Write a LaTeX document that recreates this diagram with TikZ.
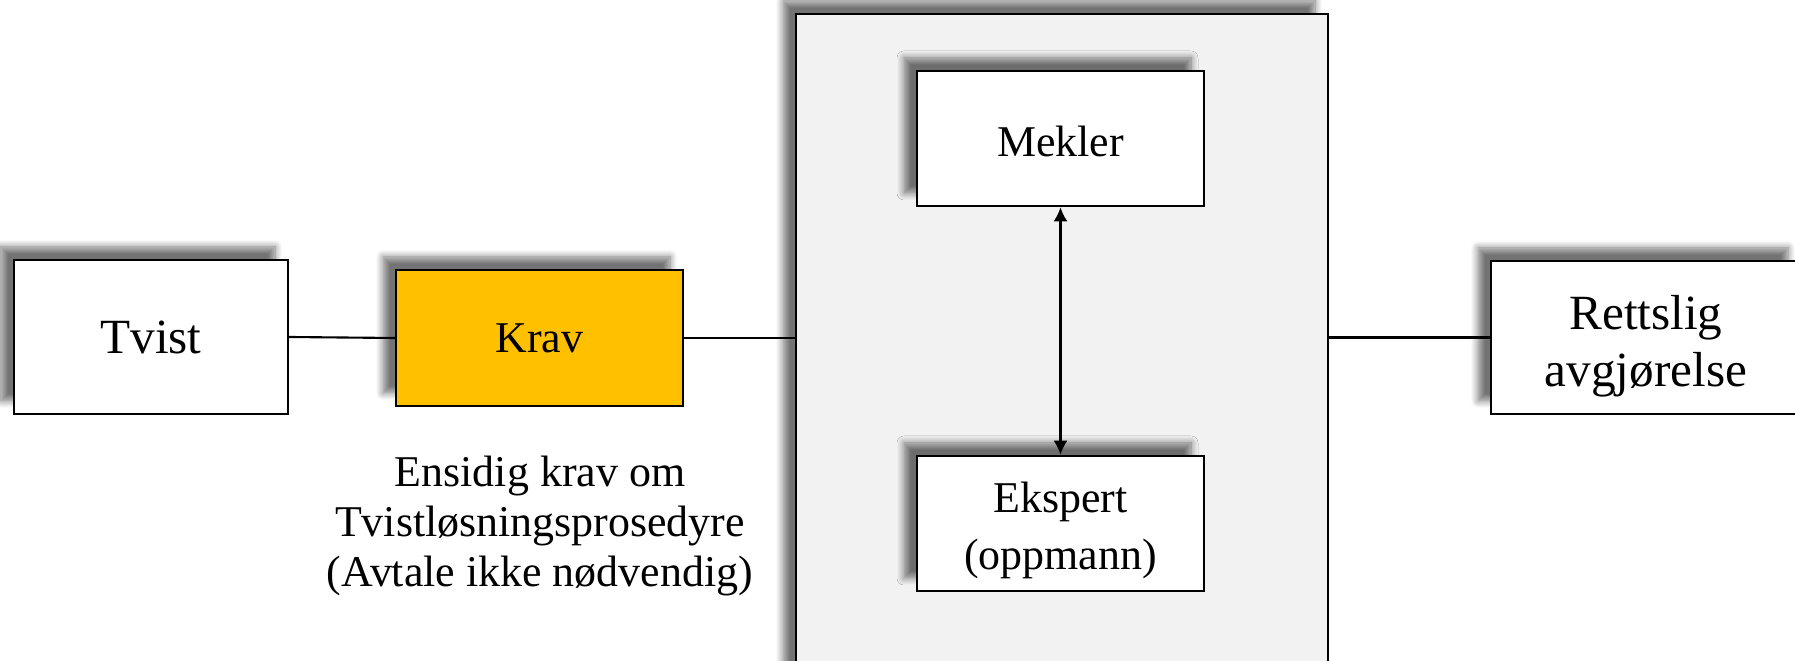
\documentclass[tikz,border=0pt]{standalone}
\usepackage{fontspec}
\setmainfont{Liberation Serif}
\usetikzlibrary{arrows.meta,shadows.blur}

\definecolor{kravgul}{HTML}{FFC000}
\definecolor{panel}{HTML}{F2F2F2}

\tikzset{
	shade box/.style={blur shadow={shadow xshift=-0.13cm,shadow yshift=0.13cm,
		shadow blur radius=0.07cm,shadow blur steps=8,shadow opacity=55}},
	box/.style={draw,line width=0.7pt,fill=white,align=center,inner sep=0pt,shade box},
	big/.style={font=\fontsize{14}{16.2}\selectfont},
	small/.style={font=\fontsize{12.5}{14.2}\selectfont}
}

\begin{document}
\begin{tikzpicture}
	\useasboundingbox (0,0) rectangle (17.95,6.61);

	% panel in the middle
	\node[box,fill=panel,line width=0.8pt,minimum width=5.32cm,minimum height=6.97cm] (panel) at (10.62,2.985) {};

	\node[box,big,minimum width=2.74cm,minimum height=1.54cm] (tvist) at (1.51,3.24) {Tvist};
	\node[box,small,fill=kravgul,minimum width=2.87cm,minimum height=1.36cm] (krav) at (5.395,3.23) {Krav};
	\node[small,align=center] (ensidig) at (5.40,1.35) {Ensidig krav om\\Tvistløsningsprosedyre\\(Avtale ikke nødvendig)};

	\node[box,small,minimum width=2.87cm,minimum height=1.35cm,text height=1.02em] (mekler) at (10.605,5.225) {Mekler};
	\node[box,small,font=\fontsize{12.5}{16.3}\selectfont,minimum width=2.87cm,minimum height=1.35cm] (ekspert) at (10.605,1.375) {\rule{0pt}{12.5pt}Ekspert\\(oppmann)};

	\node[box,big,minimum width=3.1cm,minimum height=1.53cm] (rettslig) at (16.46,3.235) {\rule{0pt}{14.5pt}Rettslig\\avgjørelse};

	\draw[line width=0.6pt] (tvist.east) -- (krav.west);
	\draw[line width=0.6pt] (krav.east) -- (krav.east -| panel.west);
	\draw[line width=0.6pt] (rettslig.west -| panel.east) -- (rettslig.west);
	\draw[line width=0.7pt,{Latex[length=4pt,width=4pt]}-{Latex[length=4pt,width=4pt]}] (mekler.south) -- (ekspert.north);
\end{tikzpicture}
\end{document}
